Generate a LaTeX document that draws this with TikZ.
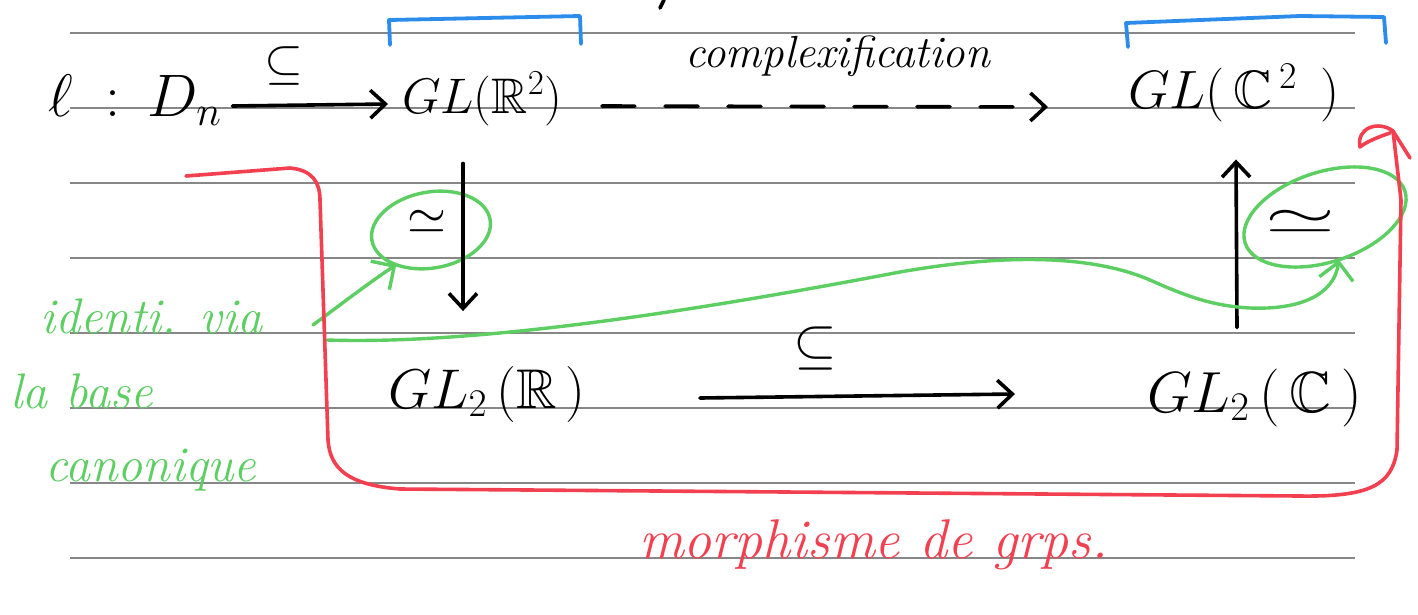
\RequirePackage{fix-cm}
\documentclass[tikz,border=0pt]{standalone}
\usepackage{amssymb}
\usetikzlibrary{arrows.meta,calc,shapes.geometric}
\definecolor{penred}{RGB}{242,64,80}
\definecolor{pengreen}{RGB}{92,206,98}
\definecolor{penblue}{RGB}{44,140,236}
\definecolor{rulegray}{RGB}{135,135,135}
\begin{document}
\begin{tikzpicture}[x=1pt,y=-1pt,
  ruleline/.style={rulegray, line width=1.3pt},
  blk/.style={black, line width=3.6pt, line cap=round, line join=round},
  tipB/.style={-{Straight Barb[length=15pt,width=28pt]}},
  tipG/.style={-{Straight Barb[length=17pt,width=34pt]}},
  grn/.style={pengreen, line width=3.4pt, line cap=round, line join=round},
  redpen/.style={penred, line width=3.6pt, line cap=round, line join=round},
  blu/.style={penblue, line width=3.8pt, line cap=round, line join=round},
  mth/.style={inner sep=0pt, outer sep=0pt},
  fs/.style={font=\fontsize{#1}{#1}\selectfont},
  circ/.style={draw=pengreen, line width=3.4pt, ellipse, inner sep=0pt, outer sep=0pt}
]
\fill[white] (0,0) rectangle (1418,614);
\useasboundingbox (0,0) rectangle (1418,614);
% ruled paper
\foreach \yy in {33,108,183,258,333,408,483,558}
  \draw[ruleline] (70,\yy) -- (1355,\yy);

% blue brackets
\draw[blu] (390,45) -- (389,20) -- (580,16) -- (581,44);
\draw[blu] (1128,47) -- (1126,23) -- (1300,16) -- (1384,17) -- (1386,43);
% stray mark at top
\draw[blk] (660,8) -- (664,0);

% formulas
\node[mth, fs=60, anchor=base west] (ldn) at (48,116) {$\ell\mskip10mu{:}\mskip8mu D_n$};
\node[mth, fs=50, anchor=base west] (glr2) at (402,113) {$GL(\mathbb{R}^2)$};
\node[mth, fs=54, anchor=base west] (glc2) at (1128,108) {$GL(\,\mathbb{C}^{\,2}\;\,)$};
\node[mth, fs=56, anchor=base west] (gl2r) at (388,408) {$GL_2\,(\mathbb{R}\,)$};
\node[mth, fs=58, anchor=base west] (gl2c) at (1147,412) {$GL_2\,(\,\mathbb{C}\,)$};
\node[mth, fs=50] (sub1) at (284,66) {$\subseteq$};
\node[mth, fs=56] (sub2) at (815,348) {$\subseteq$};
\node[mth, fs=45, anchor=base west] (cplx) at (685,67) {\itshape complexification};
\node[mth, fs=50] (eqL) at (427,222) {$\simeq$};
\node[mth, fs=50] (eqR) at (1300,222) {\scalebox{1.8}[1]{$\simeq$}};

% green circles
\node[circ, minimum width=120pt, minimum height=76pt, rotate=10] (cirL) at (431,230) {};
\node[circ, minimum width=168pt, minimum height=90pt, rotate=18] (cirR) at (1325,217) {};

% green notes
\node[mth, fs=50, anchor=base west, text=pengreen] (idT) at (40,333) {\itshape identi. via};
\node[mth, fs=50, anchor=base west, text=pengreen] (laB) at (10,408) {\itshape la base};
\node[mth, fs=50, anchor=base west, text=pengreen] (can) at (45,481) {\itshape canonique};
% red note
\node[mth, fs=56, anchor=base west, text=penred] (mor) at (639,558) {\itshape morphisme de grps.};

% black arrows
\draw[blk, tipB] ($(ldn.base east)+(11,-10)$) -- ($(glr2.base west)+(-14,-9)$);
\draw[blk, tipB, dash pattern=on 33pt off 30pt] ($(glr2.base east)+(40,-7)$) -- ($(glc2.base west)+(-80,-1)$);
\draw[blk, tipB] ($(glr2.south -| 463,0)+(0,38)$) -- ($(gl2r.north -| 463,0)+(0,-55)$);
\draw[blk, tipB] ($(gl2c.north -| 1237,0)+(0,-41)$) -- ($(glc2.south -| 1236,0)+(0,38)$);
\draw[blk, tipB] ($(gl2r.base east)+(114,-10)$) -- ($(gl2c.base west)+(-132,-18)$);

% green arrows
\coordinate (ga) at (313,325);
\coordinate (gs) at (327,340);
\draw[grn, tipG] (ga) .. controls (340,305) and (370,282) .. (cirL.215);
\draw[grn, tipG] (gs) .. controls (480,345) and (700,310) .. (900,272)
  .. controls (980,258) and (1080,250) .. (1150,280)
  .. controls (1190,298) and (1215,306) .. (1250,308)
  .. controls (1300,310) and (1334,295) .. (cirR.south);

% red arrow
\coordinate (rs) at (186,176);
\coordinate (re) at (1393,131);
\draw[redpen] (rs) -- (290,168) .. controls (312,170) and (320,182) .. (320,200)
  -- (328,440) .. controls (330,470) and (350,485) .. (400,489)
  -- (1300,496) .. controls (1370,497) and (1392,485) .. (1397,450)
  -- (1401,200) -- (re);
\draw[redpen] (re) -- (1410,158);
\draw[redpen] (re) .. controls (1378,120) and (1356,128) .. (1360,147)
  .. controls (1366,142) and (1378,137) .. (1390,133);
\end{tikzpicture}
\end{document}
